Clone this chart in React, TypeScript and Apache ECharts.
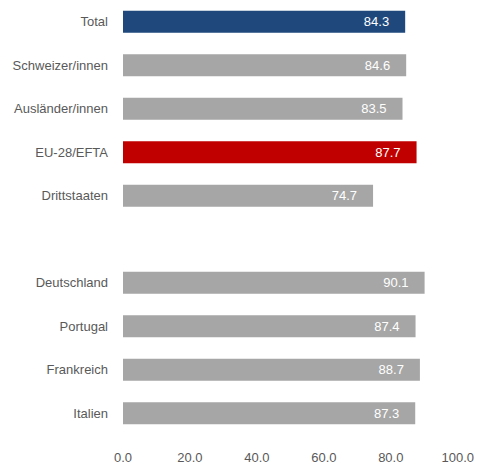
import React, { useEffect, useRef } from "react";
import * as echarts from "echarts";

const categories = [
  "Total",
  "Schweizer/innen",
  "Ausländer/innen",
  "EU-28/EFTA",
  "Drittstaaten",
  "",
  "Deutschland",
  "Portugal",
  "Frankreich",
  "Italien",
];
const values: (number | null)[] = [84.3, 84.6, 83.5, 87.7, 74.7, null, 90.1, 87.4, 88.7, 87.3];
const xTicks = [0, 20, 40, 60, 80, 100];

const FONT = "'Liberation Sans Narrow', 'Arial Narrow', 'Liberation Sans', Arial, sans-serif";

export default function App() {
  const ref = useRef<HTMLDivElement>(null);
  useEffect(() => {
    if (!ref.current) return;
    const chart = echarts.init(ref.current, undefined, { renderer: "svg" });
    const colorFor = (i: number) => (i === 0 ? "#1F497D" : i === 3 ? "#C00000" : "#A6A6A6");
    chart.setOption({
      animation: false,
      grid: { left: 123, right: 16, top: -1.5, height: 439.5, containLabel: false },
      xAxis: {
        type: "value",
        min: xTicks[0],
        max: xTicks[xTicks.length - 1],
        interval: 20,
        axisLine: { show: false },
        axisTick: { show: false },
        splitLine: { show: false },
        axisLabel: {
          margin: 16,
          color: "#595959",
          fontFamily: FONT,
          fontSize: 13,
          formatter: (v: number) => v.toFixed(1),
        },
      },
      yAxis: {
        type: "category",
        inverse: true,
        data: categories,
        axisLine: { show: false },
        axisTick: { show: false },
        axisLabel: { margin: 15, color: "#595959", fontFamily: FONT, fontSize: 13 },
      },
      series: [
        {
          type: "bar",
          barWidth: 22,
          data: values.map((v, i) => ({
            value: v === null ? "-" : v,
            itemStyle: { color: colorFor(i) },
          })),
          label: {
            show: true,
            position: "insideRight",
            distance: 16,
            color: "#FFFFFF",
            fontFamily: FONT,
            fontSize: 13,
            formatter: (p: any) => (typeof p.value === "number" ? p.value.toFixed(1) : ""),
          },
        },
      ],
    });
    return () => chart.dispose();
  }, []);
  return <div ref={ref} style={{ width: 477, height: 464, position: "absolute", left: 0, top: 0 }} />;
}
